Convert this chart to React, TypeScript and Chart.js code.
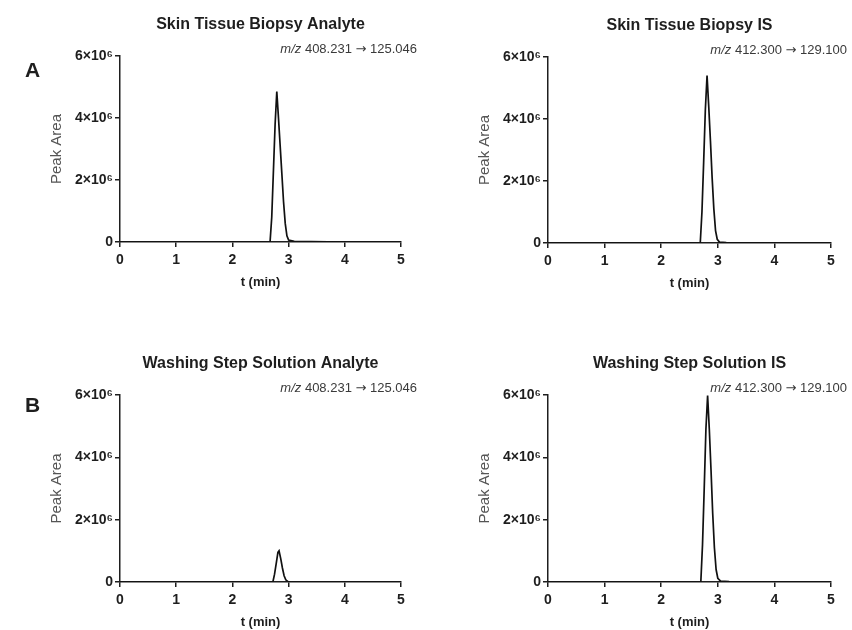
import React, { useEffect, useRef } from "react";
import { Chart, registerables } from "chart.js";

Chart.register(...registerables);

const FONT = "'Liberation Sans', Arial, Helvetica, sans-serif";

// Axis ticks
const xTickValues = [0, 1, 2, 3, 4, 5];
const yTickValues = [0, 2e6, 4e6, 6e6];
const yTickLabels = ["0", "2×10⁶", "4×10⁶", "6×10⁶"];

// Panel texts
const panelTitles = [
  "Skin Tissue Biopsy Analyte",
  "Skin Tissue Biopsy IS",
  "Washing Step Solution Analyte",
  "Washing Step Solution IS",
];
const precursorIons = ["408.231", "412.300", "408.231", "412.300"];
const productIons = ["125.046", "129.100", "125.046", "129.100"];
const panelLetters = ["A", "B"];

// Chromatogram traces (t in min, peak area)
const skinAnalyteT = [0, 1.0, 2.0, 2.67, 2.70, 2.73, 2.76, 2.79, 2.82, 2.85, 2.88, 2.91, 2.94, 2.97, 3.00, 3.10, 3.40, 4.0, 5.0];
const skinAnalyteY = [0, 0, 0, 0, 0.8e6, 2.3e6, 3.8e6, 4.85e6, 4.0e6, 3.1e6, 2.2e6, 1.3e6, 0.6e6, 0.2e6, 0.06e6, 0.02e6, 0.01e6, 0, 0];

const skinIsT = [0, 1.0, 2.0, 2.69, 2.72, 2.75, 2.78, 2.81, 2.84, 2.87, 2.90, 2.93, 2.96, 2.99, 3.03, 3.15, 4.0, 5.0];
const skinIsY = [0, 0, 0, 0, 1.0e6, 2.6e6, 4.3e6, 5.4e6, 4.4e6, 3.3e6, 2.1e6, 1.1e6, 0.4e6, 0.12e6, 0.03e6, 0.01e6, 0, 0];

const washAnalyteT = [0, 1.0, 2.0, 2.72, 2.75, 2.78, 2.81, 2.83, 2.86, 2.89, 2.92, 2.95, 2.99, 3.05, 4.0, 5.0];
const washAnalyteY = [0, 0, 0, 0, 0.25e6, 0.6e6, 0.95e6, 1.0e6, 0.75e6, 0.45e6, 0.2e6, 0.07e6, 0.01e6, 0, 0, 0];

const washIsT = [0, 1.0, 2.0, 2.70, 2.73, 2.76, 2.79, 2.82, 2.85, 2.88, 2.91, 2.94, 2.97, 3.00, 3.05, 3.20, 4.0, 5.0];
const washIsY = [0, 0, 0, 0, 1.2e6, 3.0e6, 4.9e6, 5.98e6, 4.9e6, 3.6e6, 2.2e6, 1.1e6, 0.4e6, 0.12e6, 0.03e6, 0.01e6, 0, 0];

const Y_W = 80;
const X_H = 48;

const annotatePlugin = {
  id: "annotate",
  afterDraw(chart: any, _args: any, opts: any) {
    const { ctx, chartArea } = chart;
    ctx.save();
    ctx.fillStyle = "#1e1e1e";
    ctx.font = `bold 16px ${FONT}`;
    ctx.textAlign = "center";
    ctx.textBaseline = "middle";
    ctx.fillText(opts.title, (chartArea.left + chartArea.right) / 2, chartArea.top - 31);

    // "m/z 408.231 → 125.046", right-aligned, drawn right to left
    let x = chartArea.right + 16;
    const y = chartArea.top - 3.5;
    ctx.fillStyle = "#3a3a3a";
    ctx.textAlign = "right";
    ctx.textBaseline = "alphabetic";
    const parts: [string, string][] = [
      [" " + opts.product, `13px ${FONT}`],
      ["→", `13px 'DejaVu Sans', sans-serif`],
      [" " + opts.precursor + " ", `13px ${FONT}`],
      ["m/z", `italic 13px ${FONT}`],
    ];
    for (const [txt, font] of parts) {
      ctx.font = font;
      ctx.fillText(txt, x, y);
      x -= ctx.measureText(txt).width;
    }
    ctx.restore();
  },
};

type PanelProps = {
  left: number;
  top: number;
  width: number;
  height: number;
  area: { left: number; top: number; right: number; bottom: number };
  title: string;
  precursor: string;
  product: string;
  t: number[];
  y: number[];
};

function Panel({ left, top, width, height, area, title, precursor, product, t, y }: PanelProps) {
  const ref = useRef<HTMLCanvasElement | null>(null);
  useEffect(() => {
    if (!ref.current) return;
    const axisColor = "#1e1e1e";
    const chart = new Chart(ref.current, {
      type: "line",
      data: {
        datasets: [
          {
            data: t.map((x, i) => ({ x, y: y[i] })),
            borderColor: "#111",
            borderWidth: 1.7,
            pointRadius: 0,
            tension: 0,
            fill: false,
          },
        ],
      },
      options: {
        responsive: false,
        animation: false,
        devicePixelRatio: 1,
        layout: {
          padding: {
            left: area.left - Y_W,
            top: area.top,
            right: width - area.right,
            bottom: height - area.bottom - X_H,
          },
        },
        plugins: {
          legend: { display: false },
          tooltip: { enabled: false },
          title: { display: false },
          annotate: { title, precursor, product },
        } as any,
        scales: {
          x: {
            type: "linear",
            min: xTickValues[0],
            max: xTickValues[xTickValues.length - 1],
            afterBuildTicks: (s: any) => {
              s.ticks = xTickValues.map((v) => ({ value: v }));
            },
            ticks: {
              color: axisColor,
              font: { family: FONT, size: 14, weight: "bold" },
              padding: 5,
              maxRotation: 0,
              callback: (v: any) => String(v),
            },
            grid: {
              display: true,
              drawOnChartArea: false,
              drawTicks: true,
              tickLength: 5,
              color: axisColor,
              lineWidth: 1.5,
            },
            border: { display: true, color: axisColor, width: 1.5 },
            title: {
              display: true,
              text: "t (min)",
              color: axisColor,
              font: { family: FONT, size: 13, weight: "bold" },
              padding: { top: 0, bottom: 0 },
            },
            afterFit: (s: any) => {
              s.height = X_H;
            },
          },
          y: {
            type: "linear",
            min: yTickValues[0],
            max: yTickValues[yTickValues.length - 1],
            afterBuildTicks: (s: any) => {
              s.ticks = yTickValues.map((v) => ({ value: v }));
            },
            ticks: {
              color: axisColor,
              font: { family: FONT, size: 14, weight: "bold" },
              padding: 2,
              callback: (v: any) => {
                const i = yTickValues.indexOf(Number(v));
                return i >= 0 ? yTickLabels[i] : "";
              },
            },
            grid: {
              display: true,
              drawOnChartArea: false,
              drawTicks: true,
              tickLength: 5,
              color: axisColor,
              lineWidth: 1.5,
            },
            border: { display: true, color: axisColor, width: 1.5 },
            title: {
              display: true,
              text: "Peak Area",
              color: "#555",
              font: { family: FONT, size: 15, weight: "normal" },
              padding: { top: 8, bottom: 0 },
            },
            afterFit: (s: any) => {
              s.width = Y_W;
            },
          },
        },
      } as any,
      plugins: [annotatePlugin],
    });
    return () => chart.destroy();
  }, []);
  return (
    <canvas
      ref={ref}
      width={width}
      height={height}
      style={{ position: "absolute", left, top, width, height }}
    />
  );
}

export default function App() {
  const letterStyle: React.CSSProperties = {
    position: "absolute",
    fontFamily: FONT,
    fontWeight: "bold",
    fontSize: 21,
    lineHeight: "21px",
    color: "#1e1e1e",
  };
  return (
    <div
      style={{
        position: "fixed",
        left: 0,
        top: 0,
        width: 852,
        height: 630,
        background: "#fff",
        overflow: "hidden",
      }}
    >
      <Panel
        left={0}
        top={0}
        width={426}
        height={315}
        area={{ left: 120, top: 56, right: 401, bottom: 242 }}
        title={panelTitles[0]}
        precursor={precursorIons[0]}
        product={productIons[0]}
        t={skinAnalyteT}
        y={skinAnalyteY}
      />
      <Panel
        left={428}
        top={0}
        width={424}
        height={315}
        area={{ left: 120, top: 57, right: 403, bottom: 243 }}
        title={panelTitles[1]}
        precursor={precursorIons[1]}
        product={productIons[1]}
        t={skinIsT}
        y={skinIsY}
      />
      <Panel
        left={0}
        top={314}
        width={426}
        height={316}
        area={{ left: 120, top: 81, right: 401, bottom: 268 }}
        title={panelTitles[2]}
        precursor={precursorIons[2]}
        product={productIons[2]}
        t={washAnalyteT}
        y={washAnalyteY}
      />
      <Panel
        left={428}
        top={314}
        width={424}
        height={316}
        area={{ left: 120, top: 81, right: 403, bottom: 268 }}
        title={panelTitles[3]}
        precursor={precursorIons[3]}
        product={productIons[3]}
        t={washIsT}
        y={washIsY}
      />
      <div style={{ ...letterStyle, left: 25, top: 59 }}>{panelLetters[0]}</div>
      <div style={{ ...letterStyle, left: 25, top: 394 }}>{panelLetters[1]}</div>
    </div>
  );
}
